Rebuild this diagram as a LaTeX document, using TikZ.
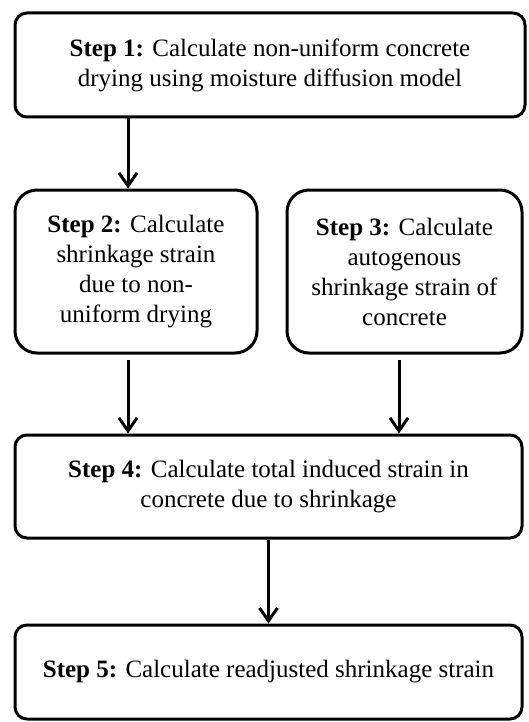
\documentclass[tikz,border=0pt]{standalone}
\usepackage{fontspec}
\setmainfont{Liberation Serif}
\usepackage{tikz}
\usetikzlibrary{arrows.meta}

\begin{document}
\begin{tikzpicture}[
  font=\fontsize{12.5}{15}\selectfont,
  stepbox/.style={draw,line width=1.5pt,rounded corners=6pt,align=center,inner sep=0pt},
  tallbox/.style={stepbox,rounded corners=11pt},
  arr/.style={-{Straight Barb[length=6.5pt,width=9pt]},line width=1.5pt},
]
\useasboundingbox (0,0) rectangle (264.5pt,-361pt);

\node[stepbox,minimum width=255pt,minimum height=52pt] (s1) at (135pt,-32.5pt) {\textbf{Step 1:} Calculate non-uniform concrete\\drying using moisture diffusion model};
\node[tallbox,minimum width=121pt,minimum height=81.5pt] (s2) at (68pt,-135.75pt) {\textbf{Step 2:} Calculate\\shrinkage strain\\due to non-\\uniform drying};
\node[tallbox,minimum width=117.5pt,minimum height=81.5pt] (s3) at (202.25pt,-135.75pt) {\textbf{Step 3:} Calculate\\autogenous\\shrinkage strain of\\concrete};
\node[stepbox,minimum width=253.5pt,minimum height=51.5pt] (s4) at (134.25pt,-243.25pt) {\textbf{Step 4:} Calculate total induced strain in\\concrete due to shrinkage};
\node[stepbox,minimum width=253.5pt,minimum height=47pt] (s5) at (134.25pt,-336pt) {\textbf{Step 5:} Calculate readjusted shrinkage strain};

\draw[arr] ([xshift=-4pt]s2.north |- s1.south) -- ([xshift=-4pt]s2.north);
\draw[arr,shorten <=2.5pt] ([xshift=-4pt]s2.south) -- ([xshift=-4pt]s2.south |- s4.north);
\draw[arr,shorten <=2.5pt] ([xshift=-2.75pt]s3.south) -- ([xshift=-2.75pt]s3.south |- s4.north);
\draw[arr] (s4.south) -- (s5.north);
\end{tikzpicture}
\end{document}
